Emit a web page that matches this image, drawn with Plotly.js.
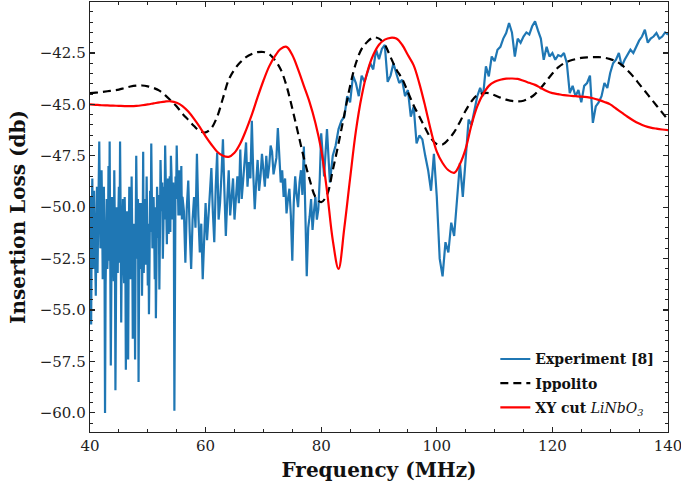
<!DOCTYPE html>
<html>
<head>
<meta charset="utf-8">
<script src="https://cdn.plot.ly/plotly-3.0.1.min.js"></script>
<style>html,body{margin:0;padding:0;background:#fff;}#chart{width:681px;height:490px;}</style>
</head>
<body>
<div id="chart"></div>
<script>
// Experiment [8], dense part 40.0 .. 56.0 MHz (0.1 MHz steps)
const expStartA = 40.0, expStepA = 0.1;
const expLossA = [
-49.5,-52.0,-55.7,-50.5,-48.6,-51.8,-53.0,-49.2,-50.2,-52.5,
-54.3,-51.0,-49.0,-53.2,-51.5,-50.0,-46.8,-49.5,-52.0,-51.0,
-48.2,-50.2,-53.5,-52.4,-49.0,-51.5,-60.0,-53.8,-50.5,-49.6,
-53.0,-51.9,-48.0,-52.6,-46.8,-50.8,-57.7,-53.5,-49.5,-50.8,
-52.5,-53.6,-48.2,-51.0,-58.9,-53.4,-50.0,-51.2,-53.2,-50.4,
-49.0,-52.7,-46.8,-50.2,-55.6,-52.2,-50.5,-49.6,-52.8,-53.7,
-49.5,-51.4,-57.9,-53.0,-50.2,-52.0,-57.4,-51.8,-49.0,-50.8,
-53.5,-52.6,-48.5,-51.2,-56.4,-53.8,-50.8,-52.2,-57.4,-51.5,
-47.5,-50.0,-52.5,-49.6,-58.5,-53.2,-49.8,-51.0,-53.0,-49.8,
-54.3,-51.8,-47.3,-53.2,-50.5,-49.6,-52.8,-51.6,-48.5,-50.2,
-53.8,-50.8,-55.2,-52.6,-49.2,-51.2,-46.9,-49.4,-52.0,-50.6,
-49.5,-51.0,-53.5,-50.0,-55.4,-52.8,-49.0,-50.2,-51.5,-49.4,
-54.0,-51.2,-47.7,-49.0,-50.2,-48.8,-52.5,-51.0,-49.0,-50.6,
-47.0,-48.6,-50.5,-51.8,-49.2,-48.6,-51.3,-50.0,-48.5,-51.2,
-47.5,-48.4,-49.8,-50.6,-48.8,-50.2,-59.9,-52.0,-48.5,-49.6,
-47.0,-48.4,-49.0,-50.4,-48.2,-49.0,-50.4,-49.4,-48.0,-50.6,
-49.5
];
// Experiment [8], 56.25 .. 80.0 MHz (0.25 MHz steps)
const expStartB = 56.25, expStepB = 0.25;
const expLossB = [
-50.2,-52.7,-50.0,-48.7,-51.2,-53.0,-50.6,-49.5,-51.0,-47.4,
-50.4,-52.2,-50.8,-53.5,-51.6,-49.8,-51.6,-50.5,-49.4,-48.1,
-50.2,-51.7,-49.0,-47.35,-50.6,-49.8,-48.4,-46.7,-49.2,-51.4,
-49.6,-48.2,-50.4,-49.5,-48.6,-50.6,-49.2,-48.5,-49.8,-47.2,
-49.6,-48.8,-48.0,-46.85,-49.0,-47.8,-48.6,-45.8,-48.4,-50.1,
-48.8,-47.7,-49.2,-48.5,-47.4,-48.2,-49.0,-47.5,-48.6,-48.0,
-47.0,-47.3,-48.4,-48.0,-47.6,-46.15,-47.8,-48.8,-48.2,-49.5,
-48.6,-50.3,-49.6,-49.1,-50.4,-52.6,-49.8,-48.5,-49.4,-50.0,
-48.8,-48.2,-49.4,-47.05,-50.2,-53.35,-51.0,-50.45,-49.6,-51.1,
-50.2,-49.5,-50.6,-50.1,-48.6,-46.4
];
// Experiment [8], 80.5 .. 140 MHz (0.5 MHz steps)
const expStartC = 80.5, expStepC = 0.5;
const expLossC = [
-48.5,
-46.2,-48.8, -47.5,-47.0, -46.2,-45.8, -45.6,-44.6, -44.9,-43.6,
-43.96,-44.6, -43.6,-43.9, -43.5,-43.0, -43.3,-42.34, -42.8,-42.3,
-42.1,-43.9, -43.6,-43.0, -43.5,-43.96, -43.8,-44.6, -44.3,-45.6,
-45.1,-46.9, -46.5,-46.7, -47.5,-48.2, -49.2,-47.4, -49.5,-52.5,
-53.36,-51.7, -52.2,-50.75, -51.4,-49.5, -47.85,-49.5, -47.4,-45.74,
-46.0,-45.26, -44.6,-44.2, -44.6,-43.15, -43.64,-42.67, -42.9,-42.34,
-42.2,-41.8, -41.53,-41.04, -41.5,-42.67, -41.8,-42.0, -41.7,-41.5,
-41.6,-41.2, -40.96,-41.4, -41.8,-42.83, -42.2,-42.67, -42.5,-42.83,
-42.6,-42.67, -42.5,-43.0, -44.45,-44.1, -44.6,-44.3, -44.9,-44.1,
-43.96,-43.6, -45.9,-45.1, -44.9,-44.6, -43.96,-44.2, -43.47,-43.0,
-42.83,-42.5, -43.15,-42.83, -42.6,-42.34, -42.5,-42.2, -41.9,-41.7,
-41.37,-42.0, -41.8,-41.7, -41.53,-41.8, -41.7,-41.5,
-41.6
];
// Models, 40 .. 140 MHz (1 MHz steps)
const modelStart = 40, modelStep = 1;
const ippolitoLoss = [
-44.45,-44.43,-44.4,-44.36,-44.32,-44.28,-44.2,-44.13,-44.09,-44.08,
-44.12,-44.2,-44.33,-44.55,-44.82,-45.1,-45.45,-45.75,-46.05,-46.3,
-46.36,-46.15,-45.6,-44.7,-43.8,-43.3,-42.95,-42.7,-42.55,-42.46,
-42.45,-42.55,-42.85,-43.3,-44.1,-45.2,-46.4,-47.6,-48.65,-49.5,
-49.75,-49.4,-48.2,-46.9,-45.5,-44.1,-43.0,-42.3,-41.95,-41.75,
-41.8,-42.1,-42.7,-43.3,-43.75,-44.4,-45.05,-45.6,-46.15,-46.65,
-46.93,-46.95,-46.7,-46.35,-45.85,-45.3,-44.85,-44.55,-44.46,-44.45,
-44.55,-44.67,-44.77,-44.83,-44.85,-44.82,-44.7,-44.5,-44.2,-43.85,
-43.5,-43.2,-43.0,-42.88,-42.8,-42.74,-42.71,-42.7,-42.7,-42.73,
-42.8,-42.9,-43.08,-43.35,-43.65,-44.0,-44.35,-44.7,-45.05,-45.4,
-45.75
];
const xyCutLoss = [
-45.0,-45.02,-45.04,-45.05,-45.06,-45.07,-45.08,-45.08,-45.07,-45.04,
-45.0,-44.95,-44.9,-44.86,-44.85,-44.92,-45.08,-45.35,-45.7,-46.1,
-46.55,-46.95,-47.3,-47.5,-47.55,-47.35,-46.9,-46.25,-45.5,-44.65,
-43.85,-43.15,-42.65,-42.3,-42.2,-42.6,-43.3,-44.1,-44.9,-45.9,
-47.2,-49.2,-51.6,-53.0,-51.0,-48.6,-46.3,-44.6,-43.4,-42.6,
-42.1,-41.85,-41.76,-41.8,-42.1,-42.6,-43.1,-44.0,-45.1,-46.3,
-47.3,-47.85,-48.2,-48.33,-47.9,-47.15,-46.0,-45.1,-44.5,-44.1,
-43.9,-43.8,-43.75,-43.74,-43.76,-43.85,-43.95,-44.05,-44.2,-44.35,
-44.45,-44.5,-44.55,-44.58,-44.6,-44.62,-44.65,-44.7,-44.78,-44.88,
-45.0,-45.2,-45.4,-45.6,-45.78,-45.93,-46.05,-46.13,-46.18,-46.22,
-46.25
];
const xTickVals = [40, 60, 80, 100, 120, 140];
const xTickText = ['40', '60', '80', '100', '120', '140'];
const yTickVals = [-60, -57.5, -55, -52.5, -50, -47.5, -45, -42.5];
const yTickText = ['\u221260.0', '\u221257.5', '\u221255.0', '\u221252.5', '\u221250.0', '\u221247.5', '\u221245.0', '\u221242.5'];
const seriesNames = ['<b>Experiment [8]</b>', '<b>Ippolito</b>', '<b>XY cut</b> <i>LiNbO<sub>3</sub></i>'];

const expFreq = [], expLoss = [];
[[expStartA, expStepA, expLossA], [expStartB, expStepB, expLossB], [expStartC, expStepC, expLossC]].forEach(([s, d, arr]) => {
  arr.forEach((v, i) => { expFreq.push(+(s + i * d).toFixed(3)); expLoss.push(v); });
});
const modelFreq = ippolitoLoss.map((_, i) => modelStart + i * modelStep);

const font = 'DejaVu Serif';
const traces = [
  {x: expFreq, y: expLoss, name: seriesNames[0], legendgroup: 'a', type: 'scatter', mode: 'lines',
   line: {color: '#1f77b4', width: 2.2}},
  {x: modelFreq, y: ippolitoLoss, name: seriesNames[1], legendgroup: 'b', type: 'scatter', mode: 'lines',
   line: {color: '#000000', width: 2.2, dash: '8px,5px', shape: 'spline', smoothing: 1}},
  {x: modelFreq, y: xyCutLoss, name: seriesNames[2], legendgroup: 'c', type: 'scatter', mode: 'lines',
   line: {color: '#ff0000', width: 2.2, shape: 'spline', smoothing: 1}}
];
const axisCommon = {
  showline: true, linecolor: '#222', linewidth: 1.3, mirror: 'allticks',
  ticks: 'inside', ticklen: 5, tickwidth: 1.1, tickcolor: '#222',
  showgrid: false, zeroline: false, tickmode: 'array', ticklabeloverflow: 'allow',
  tickfont: {family: font, size: 15, color: '#222'}
};
const layout = {
  width: 681, height: 490,
  margin: {l: 90, r: 13, t: 2, b: 58},
  paper_bgcolor: '#fff', plot_bgcolor: '#fff',
  showlegend: true,
  legend: {x: 0.985, xanchor: 'right', y: 0.02, yanchor: 'bottom', tracegroupgap: 3,
           bgcolor: 'rgba(0,0,0,0)', font: {family: font, size: 14, color: '#111'}},
  xaxis: Object.assign({}, axisCommon, {
    range: [40, 140], tickvals: xTickVals, ticktext: xTickText,
    minor: {tick0: 40, dtick: 5, ticks: 'inside', ticklen: 3, tickcolor: '#222', tickwidth: 1, showgrid: false},
    title: {text: '<b>Frequency (MHz)</b>', font: {family: font, size: 20, color: '#111'}, standoff: 8}
  }),
  yaxis: Object.assign({}, axisCommon, {
    range: [-60.93, -40.02], tickvals: yTickVals, ticktext: yTickText,
    minor: {tick0: -60, dtick: 0.5, ticks: 'inside', ticklen: 3, tickcolor: '#222', tickwidth: 1, showgrid: false},
    title: {text: '<b>Insertion Loss (db)</b>', font: {family: font, size: 20, color: '#111'}, standoff: 8}
  })
};
Plotly.newPlot('chart', traces, layout, {displayModeBar: false, staticPlot: true});
</script>
</body>
</html>
